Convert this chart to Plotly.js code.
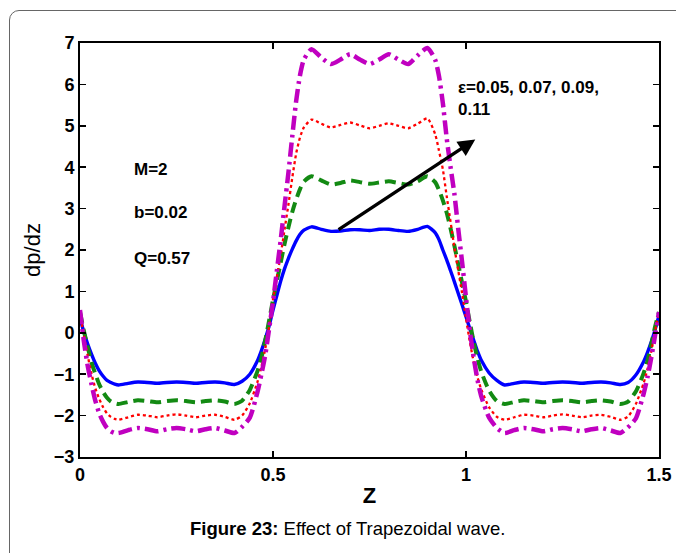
<!DOCTYPE html>
<html>
<head>
<meta charset="utf-8">
<script src="https://cdn.plot.ly/plotly-3.0.1.min.js"></script>
<style>
  html, body { margin: 0; padding: 0; background: #fff; }
  #wrap { position: relative; width: 676px; height: 553px; overflow: hidden; }
  #chart { position: absolute; left: 0; top: 0; width: 676px; height: 553px; }
  #frame { position: absolute; left: 9px; top: 10px; width: 720px; height: 600px;
           border: 1.5px solid #666; border-top-left-radius: 10px; pointer-events: none; }
</style>
</head>
<body>
<div id="wrap">
  <div id="chart"></div>
  <div id="frame"></div>
</div>
<script>
// x positions (Z)
const zValues = [
  0, 0.01, 0.02, 0.03, 0.04, 0.05, 0.06, 0.07, 0.08, 0.09,
  0.10, 0.125, 0.15, 0.175, 0.20, 0.225, 0.25, 0.275, 0.30, 0.325, 0.35, 0.375, 0.40,
  0.42, 0.44, 0.46, 0.47, 0.48, 0.49, 0.50, 0.51, 0.52, 0.53, 0.54, 0.55, 0.56, 0.57, 0.58,
  0.60, 0.625, 0.65, 0.675, 0.70, 0.725, 0.75, 0.775, 0.80, 0.825, 0.85, 0.875, 0.90,
  0.92, 0.93, 0.94, 0.95, 0.96, 0.97, 0.98, 0.99, 1.00, 1.01, 1.02, 1.03, 1.04, 1.06, 1.08,
  1.10, 1.125, 1.15, 1.175, 1.20, 1.225, 1.25, 1.275, 1.30, 1.325, 1.35, 1.375, 1.40,
  1.42, 1.44, 1.46, 1.47, 1.48, 1.49, 1.50
];

// dp/dz for eps = 0.05 (blue, solid)
const eps005 = [
  0.35, 0.02, -0.27, -0.52, -0.74, -0.92, -1.05, -1.15, -1.2, -1.24,
  -1.26, -1.22, -1.19, -1.2, -1.22, -1.2, -1.19, -1.2, -1.22, -1.2, -1.19, -1.21, -1.25,
  -1.17, -1.0, -0.67, -0.43, -0.15, 0.17, 0.55, 0.9, 1.25, 1.55, 1.8, 2.02, 2.22, 2.38, 2.48,
  2.56, 2.5, 2.45, 2.46, 2.49, 2.49, 2.47, 2.5, 2.5, 2.47, 2.45, 2.5, 2.57,
  2.42, 2.25, 2.0, 1.76, 1.5, 1.23, 0.95, 0.67, 0.39, 0.1, -0.18, -0.45, -0.67, -0.97, -1.15,
  -1.26, -1.22, -1.19, -1.2, -1.22, -1.2, -1.19, -1.2, -1.22, -1.2, -1.19, -1.21, -1.25,
  -1.2, -1.02, -0.7, -0.48, -0.22, 0.08, 0.42
];

// eps = 0.07 (green, dashed)
const eps007 = [
  0.5, 0.05, -0.35, -0.72, -1.0, -1.25, -1.43, -1.57, -1.66, -1.7,
  -1.72, -1.67, -1.63, -1.65, -1.68, -1.65, -1.63, -1.65, -1.68, -1.65, -1.63, -1.66, -1.72,
  -1.64, -1.38, -0.92, -0.6, -0.18, 0.3, 0.8, 1.25, 1.7, 2.15, 2.55, 2.92, 3.22, 3.47, 3.65,
  3.78, 3.68, 3.58, 3.62, 3.68, 3.64, 3.6, 3.63, 3.66, 3.62, 3.58, 3.66, 3.78,
  3.64, 3.45, 3.2, 2.9, 2.52, 2.1, 1.65, 1.2, 0.75, 0.25, -0.22, -0.63, -0.95, -1.4, -1.65,
  -1.72, -1.67, -1.63, -1.65, -1.68, -1.65, -1.63, -1.65, -1.68, -1.65, -1.63, -1.66, -1.72,
  -1.66, -1.42, -0.98, -0.68, -0.28, 0.15, 0.5
];

// eps = 0.09 (red, dotted)
const eps009 = [
  0.5, -0.07, -0.55, -1.0, -1.35, -1.6, -1.8, -1.95, -2.03, -2.08,
  -2.1, -2.04, -1.98, -2.0, -2.04, -2.0, -1.97, -2.0, -2.04, -2.0, -1.98, -2.03, -2.1,
  -2.0, -1.7, -1.18, -0.82, -0.38, 0.15, 0.8, 1.35, 1.88, 2.5, 3.1, 3.75, 4.33, 4.72, 4.96,
  5.15, 5.05, 4.96, 5.02, 5.08, 5.01, 4.94, 5.0, 5.06, 5.0, 4.94, 5.05, 5.18,
  4.8, 4.4, 3.95, 3.3, 2.68, 2.05, 1.5, 0.95, 0.35, -0.22, -0.7, -1.08, -1.38, -1.8, -2.03,
  -2.1, -2.04, -1.98, -2.0, -2.04, -2.0, -1.97, -2.0, -2.04, -2.0, -1.98, -2.03, -2.1,
  -2.02, -1.72, -1.22, -0.88, -0.45, 0.05, 0.5
];

// eps = 0.11 (magenta, dash-dot)
const eps011 = [
  0.55, -0.2, -0.8, -1.25, -1.65, -1.95, -2.15, -2.3, -2.38, -2.42,
  -2.42, -2.35, -2.3, -2.33, -2.38, -2.33, -2.3, -2.33, -2.38, -2.33, -2.3, -2.36, -2.42,
  -2.27, -2.05, -1.42, -1.0, -0.53, 0.1, 0.75, 1.5, 2.25, 3.07, 3.87, 4.75, 5.6, 6.22, 6.6,
  6.85, 6.65, 6.49, 6.6, 6.73, 6.6, 6.49, 6.6, 6.73, 6.6, 6.49, 6.7, 6.88,
  6.6, 6.2, 5.55, 4.7, 4.0, 3.35, 2.5, 1.7, 0.85, 0.05, -0.6, -1.15, -1.55, -2.05, -2.3,
  -2.42, -2.35, -2.3, -2.33, -2.38, -2.33, -2.3, -2.33, -2.38, -2.33, -2.3, -2.36, -2.42,
  -2.28, -2.07, -1.48, -1.08, -0.6, -0.05, 0.5
];

const xTickVals = [0, 0.5, 1, 1.5];
const xTickText = ['0', '0.5', '1', '1.5'];
const yTickVals = [-3, -2, -1, 0, 1, 2, 3, 4, 5, 6, 7];

const FONT = 'Liberation Sans, Arial, sans-serif';

function series(y, color, dash, width) {
  return {
    x: zValues, y: y, type: 'scatter', mode: 'lines',
    line: { color: color, dash: dash, width: width, shape: 'spline', smoothing: 0.6 },
    hoverinfo: 'skip', showlegend: false
  };
}

const data = [
  series(eps005, '#0000ff', 'solid', 3.4),
  series(eps007, '#138a13', '11px,6px', 4),
  series(eps009, '#ff0000', '3px,3px', 2.3),
  series(eps011, '#c000c0', '14px,5px,3px,5px', 4.5)
];

const axisCommon = {
  showgrid: false, zeroline: false, showline: true, linecolor: '#000', linewidth: 2,
  mirror: 'ticks', ticks: 'inside', ticklen: 6, tickwidth: 1.5, tickcolor: '#000',
  tickfont: { family: FONT, size: 18, color: '#000', weight: 'bold' }
};

const annFont = { family: FONT, size: 17, color: '#000', weight: 'bold' };

const layout = {
  width: 676, height: 553,
  margin: { l: 80, r: 17, t: 43, b: 96 },
  paper_bgcolor: 'rgba(0,0,0,0)', plot_bgcolor: '#fff',
  xaxis: Object.assign({}, axisCommon, {
    range: [0, 1.5], tickvals: xTickVals, ticktext: xTickText,
    title: { text: 'Z', font: { family: FONT, size: 22, color: '#000', weight: 'bold' }, standoff: 4 }
  }),
  yaxis: Object.assign({}, axisCommon, {
    range: [-3, 7], tickvals: yTickVals,
    title: { text: 'dp/dz', font: { family: FONT, size: 22, color: '#000' }, standoff: 7 }
  }),
  annotations: [
    { x: 0.135, y: 3.95, xref: 'x', yref: 'y', text: 'M=2', showarrow: false, xanchor: 'left', yanchor: 'middle', font: annFont },
    { x: 0.135, y: 2.9, xref: 'x', yref: 'y', text: 'b=0.02', showarrow: false, xanchor: 'left', yanchor: 'middle', font: annFont },
    { x: 0.135, y: 1.8, xref: 'x', yref: 'y', text: 'Q=0.57', showarrow: false, xanchor: 'left', yanchor: 'middle', font: annFont },
    { x: 0.975, y: 5.65, xref: 'x', yref: 'y', text: 'ε=0.05, 0.07, 0.09,<br>0.11', align: 'left',
      showarrow: false, xanchor: 'left', yanchor: 'middle', font: annFont },
    { x: 1.024, y: 4.67, ax: 0.666, ay: 2.47, xref: 'x', yref: 'y', axref: 'x', ayref: 'y',
      text: '', showarrow: true, arrowhead: 2, arrowsize: 1, arrowwidth: 3.4, arrowcolor: '#000' },
    { x: 0.462, y: -0.172, xref: 'paper', yref: 'paper', xanchor: 'center', yanchor: 'middle',
      text: '<b>Figure 23:</b> Effect of Trapezoidal wave.', showarrow: false,
      font: { family: FONT, size: 18.5, color: '#000' } }
  ]
};

Plotly.newPlot('chart', data, layout, { displayModeBar: false, staticPlot: true });
</script>
</body>
</html>
